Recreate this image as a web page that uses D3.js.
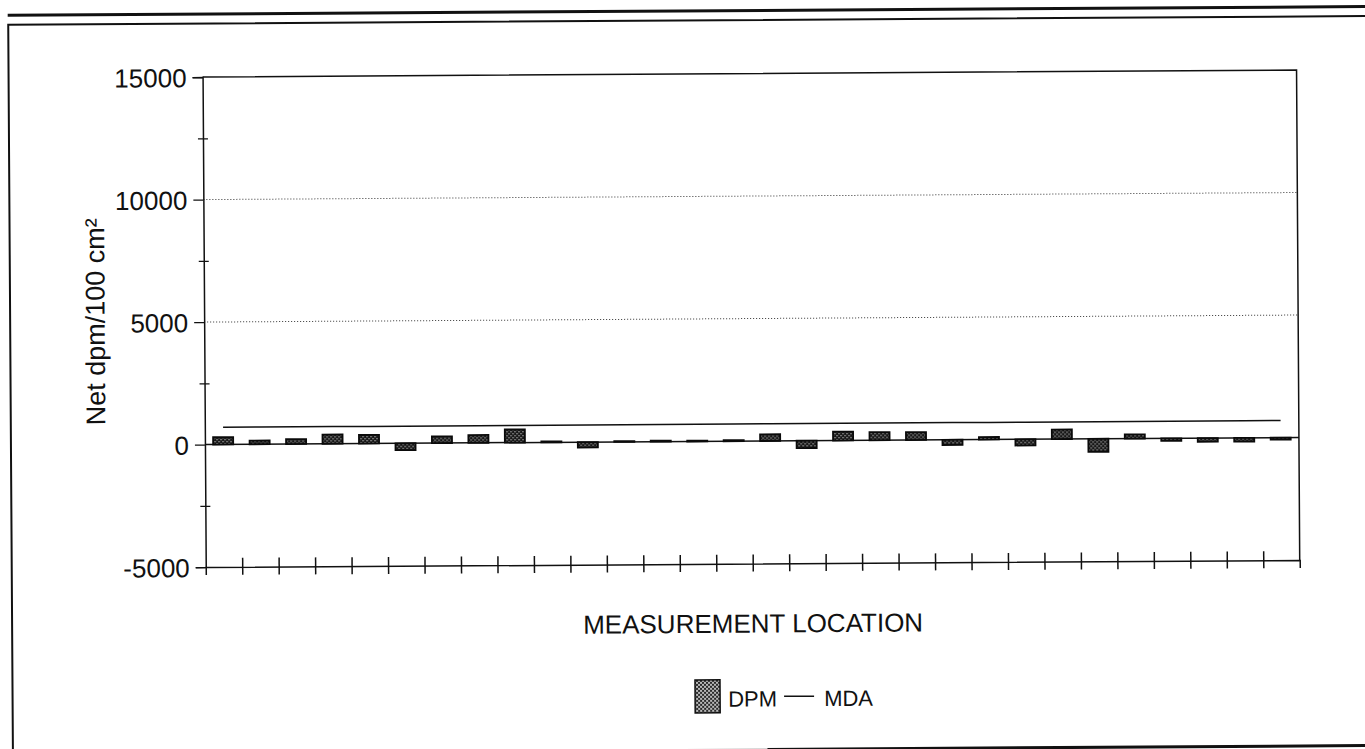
<!DOCTYPE html>
<html><head><meta charset="utf-8">
<script src="https://cdn.jsdelivr.net/npm/d3@7/dist/d3.min.js"></script>
<style>html,body{margin:0;padding:0;background:#fff;overflow:hidden}
text{font-family:"Liberation Sans",Arial,sans-serif;fill:#111}</style>
</head><body>
<svg id="chart" width="1365" height="749"></svg>
<script>
const categories = [1,2,3,4,5,6,7,8,9,10,11,12,13,14,15,16,17,18,19,20,21,22,23,24,25,26,27,28,29,30];
const dpmValues = [300,150,200,380,350,-280,270,320,540,40,-220,30,40,30,40,270,-300,360,330,320,-210,100,-250,390,-530,170,-100,-150,-150,-80];
const mdaValues = [700,700,700,700,700,700,700,700,700,700,700,700,700,700,700,700,700,700,700,700,700,700,700,700,700,700,700,700,700,700];
const yTickValues = [-5000,0,5000,10000,15000];
const yTickLabels = ["-5000","0","5000","10000","15000"];
const yMinorTicks = [-2500,2500,7500,12500];
const gridValues = [5000,10000];
const xAxisTitle = "MEASUREMENT LOCATION";
const yAxisTitle = "Net dpm/100 cm\u00B2";
const legendLabels = ["DPM","MDA"];

const svg = d3.select("#chart");
const defs = svg.append("defs");
const pat = defs.append("pattern").attr("id","stip").attr("patternUnits","userSpaceOnUse").attr("width",4).attr("height",4);
pat.append("rect").attr("width",4).attr("height",4).attr("fill","#161616");
pat.append("rect").attr("x",0).attr("y",0).attr("width",1.3).attr("height",1.3).attr("fill","#b0b0b0");
pat.append("rect").attr("x",2).attr("y",2).attr("width",1.3).attr("height",1.3).attr("fill","#b0b0b0");
const pat2 = defs.append("pattern").attr("id","stipL").attr("patternUnits","userSpaceOnUse").attr("width",4).attr("height",4);
pat2.append("rect").attr("width",4).attr("height",4).attr("fill","#2a2a2a");
pat2.append("rect").attr("x",0).attr("y",0).attr("width",2).attr("height",2).attr("fill","#b8b8b8");
pat2.append("rect").attr("x",2).attr("y",2).attr("width",2).attr("height",2).attr("fill","#b8b8b8");

const root = svg.append("g").attr("transform","rotate(-0.37,683,374)");

// outer frame
root.append("line").attr("x1",10).attr("x2",1400).attr("y1",11).attr("y2",11).attr("stroke","#111").attr("stroke-width",3);
root.append("path").attr("d","M1400,20.5 H10.5 V760").attr("fill","none").attr("stroke","#111").attr("stroke-width",2);
root.append("line").attr("x1",678).attr("x2",765).attr("y1",750).attr("y2",750).attr("stroke","#aaa").attr("stroke-width",2);
root.append("line").attr("x1",765).attr("x2",1400).attr("y1",750).attr("y2",750).attr("stroke","#111").attr("stroke-width",3);

const L = 204.5, R = 1298.5, T = 74, B = 564;
const y = d3.scaleLinear().domain([-5000,15000]).range([B,T]);
const xb = d3.scaleBand().domain(categories).range([L,R]).paddingInner(0.45).paddingOuter(0.225);
const xs = d3.scaleLinear().domain([0,categories.length]).range([L,R]);

// dotted grid
root.append("g").selectAll("line").data(gridValues).join("line")
  .attr("x1",L).attr("x2",R).attr("y1",d=>y(d)).attr("y2",d=>y(d))
  .attr("stroke","#333").attr("stroke-width",1).attr("stroke-dasharray","1,2");

// frame top/right
root.append("path").attr("d",`M${L},${T} H${R} V${B}`).attr("fill","none").attr("stroke","#111").attr("stroke-width",1.5);

// zero line
root.append("line").attr("x1",L).attr("x2",R).attr("y1",y(0)).attr("y2",y(0)).attr("stroke","#111").attr("stroke-width",1.5);

// bars
root.append("g").selectAll("rect").data(categories).join("rect")
  .attr("x",d=>xb(d)).attr("width",xb.bandwidth())
  .attr("y",(d,i)=>y(Math.max(0,dpmValues[i])))
  .attr("height",(d,i)=>Math.abs(y(dpmValues[i])-y(0)))
  .attr("fill","url(#stip)").attr("stroke","#0a0a0a").attr("stroke-width",1.8);

// MDA line
const line = d3.line().x((d,i)=>xb(categories[i])+xb.bandwidth()/2).y(d=>y(d));
root.append("path").datum(mdaValues).attr("d",line).attr("fill","none").attr("stroke","#111").attr("stroke-width",1.5);

// y axis
const yAxis = d3.axisLeft(y).tickValues(yTickValues).tickSize(10).tickPadding(6)
  .tickFormat((d,i)=>yTickLabels[i]);
const gy = root.append("g").attr("transform",`translate(${L},0)`).call(yAxis);
gy.select(".domain").attr("stroke","#111").attr("stroke-width",1.5);
gy.selectAll(".tick line").attr("stroke","#111").attr("stroke-width",1.3);
gy.selectAll(".tick text").style("font-size","26px").style("font-family","'Liberation Sans',Arial,sans-serif").attr("fill","#111").attr("dy","0.36em");
const yMinor = d3.axisLeft(y).tickValues(yMinorTicks).tickSize(5).tickFormat("");
const gym = root.append("g").attr("transform",`translate(${L},0)`).call(yMinor);
gym.select(".domain").remove();
gym.selectAll(".tick line").attr("x1",-5).attr("x2",5).attr("stroke","#111").attr("stroke-width",1.2);

// x axis
const xTicks = d3.range(1,categories.length);
const xAxis = d3.axisBottom(xs).tickValues(xTicks).tickSize(8).tickFormat("");
const gx = root.append("g").attr("transform",`translate(0,${B})`).call(xAxis);
gx.select(".domain").attr("stroke","#111").attr("stroke-width",1.5);
gx.selectAll(".tick line").attr("y1",-9).attr("y2",8).attr("stroke","#111").attr("stroke-width",1.5);

// titles
root.append("text").attr("x",(L+R)/2).attr("y",633).attr("text-anchor","middle").style("font-size","26px").text(xAxisTitle);
root.append("text").attr("transform","translate(105,318) rotate(-90)").attr("text-anchor","middle").style("font-size","27px").text(yAxisTitle);

// legend
const lg = root.append("g");
lg.append("rect").attr("x",693).attr("y",680).attr("width",25).attr("height",33).attr("fill","url(#stipL)").attr("stroke","#111").attr("stroke-width",1.5);
lg.append("text").attr("x",726).attr("y",707).style("font-size","22px").text(legendLabels[0]);
lg.append("line").attr("x1",782).attr("x2",812).attr("y1",697).attr("y2",697).attr("stroke","#111").attr("stroke-width",1.5);
lg.append("text").attr("x",822).attr("y",707).style("font-size","22px").text(legendLabels[1]);
</script>
</body></html>
